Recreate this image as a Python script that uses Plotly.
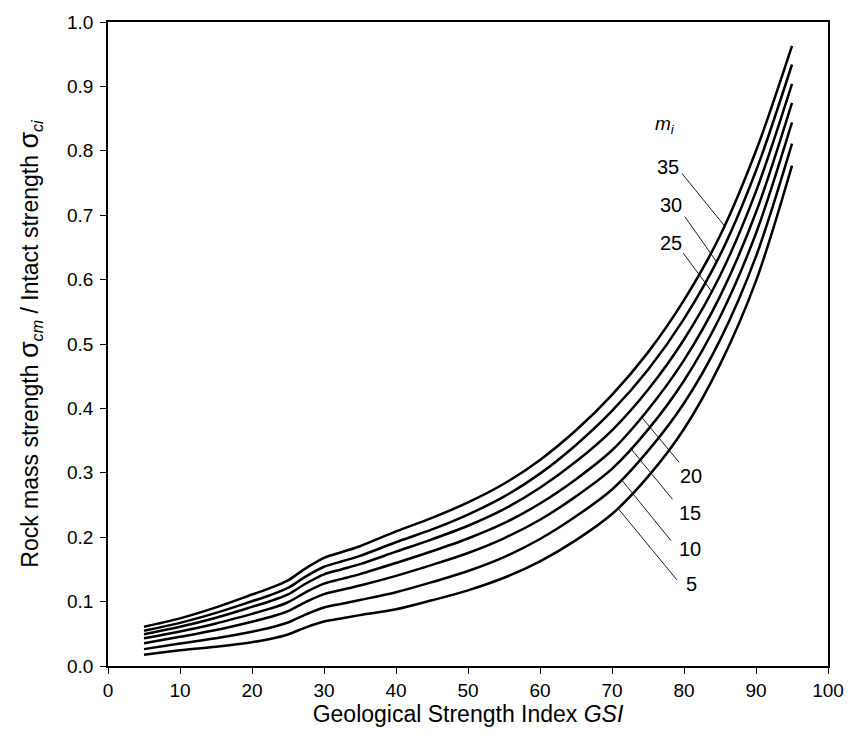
import numpy as np
import plotly.graph_objects as go

# ---- data ----
gsi = [5, 10, 15, 20, 22.5, 25, 27.5, 30, 32.5, 35, 40, 45, 50, 55, 60, 65, 70, 75, 80, 85, 90, 95]

mi_values = [35, 30, 25, 20, 15, 10, 5]

ratio_mi35 = [0.061, 0.074, 0.091, 0.111, 0.121, 0.133, 0.152, 0.168, 0.177, 0.186, 0.209, 0.230,
              0.254, 0.283, 0.320, 0.366, 0.421, 0.487, 0.568, 0.668, 0.800, 0.963]
ratio_mi30 = [0.0548, 0.0670, 0.0825, 0.1006, 0.1099, 0.1212, 0.1391, 0.1541, 0.1626, 0.1710, 0.1921, 0.2121,
              0.2352, 0.2630, 0.2987, 0.3432, 0.396, 0.460, 0.539, 0.638, 0.769, 0.934]
ratio_mi25 = [0.0493, 0.0609, 0.0750, 0.0918, 0.1005, 0.1112, 0.1281, 0.1423, 0.1502, 0.1582, 0.1775, 0.1967,
              0.2178, 0.2436, 0.2767, 0.3174, 0.366, 0.429, 0.507, 0.606, 0.737, 0.904]
ratio_mi20 = [0.0432, 0.0537, 0.0661, 0.0810, 0.0890, 0.0990, 0.1147, 0.1279, 0.1353, 0.1427, 0.1600, 0.1782,
              0.1980, 0.2217, 0.2523, 0.2901, 0.335, 0.398, 0.475, 0.574, 0.7045, 0.8745]
ratio_mi15 = [0.0353, 0.0453, 0.0559, 0.0688, 0.0760, 0.0851, 0.0996, 0.1116, 0.1183, 0.1250, 0.1400, 0.1570,
              0.1755, 0.1983, 0.2271, 0.2634, 0.306, 0.367, 0.443, 0.542, 0.672, 0.844]
ratio_mi10 = [0.0262, 0.0349, 0.0431, 0.0533, 0.0594, 0.0675, 0.0802, 0.0908, 0.0967, 0.1025, 0.1146, 0.1302,
              0.1475, 0.1691, 0.1972, 0.2325, 0.274, 0.334, 0.408, 0.506, 0.636, 0.811]
ratio_mi5 = [0.0175, 0.0245, 0.0300, 0.0370, 0.0420, 0.0490, 0.0600, 0.0690, 0.0740, 0.0790, 0.0880, 0.1020,
             0.1175, 0.1370, 0.1625, 0.1955, 0.236, 0.294, 0.368, 0.468, 0.598, 0.777]

series = [ratio_mi35, ratio_mi30, ratio_mi25, ratio_mi20, ratio_mi15, ratio_mi10, ratio_mi5]

x_ticks = list(range(0, 101, 10))
y_ticks = [round(v * 0.1, 1) for v in range(0, 11)]

# label placement: label centre (GSI, ratio), leader start (GSI, ratio), GSI where leader meets its curve
label_text = ["35", "30", "25", "20", "15", "10", "5"]
label_pos = [(77.8, 0.775), (78.15, 0.7155), (78.15, 0.657), (81.0, 0.295), (80.8, 0.2383), (80.9, 0.1818), (81.0, 0.1266)]
leader_start = [(79.7, 0.765), (80.1, 0.698), (79.9, 0.641), (79.3, 0.3166), (78.4, 0.259), (78.2, 0.1946), (79.0, 0.1339)]
leader_end_gsi = [85.6, 84.5, 83.8, 74.1, 72.6, 71.3, 70.8]

FONT = "Liberation Sans, Arial, Helvetica, sans-serif"

fig = go.Figure()
for mi, vals in zip(mi_values, series):
    fig.add_trace(go.Scatter(x=gsi, y=vals, mode="lines", name=f"mi={mi}",
                             line=dict(color="black", width=2.5, shape="spline", smoothing=0.9),
                             hoverinfo="x+y"))

for vals, (sx, sy), eg in zip(series, leader_start, leader_end_gsi):
    ey = float(np.interp(eg, gsi, vals))
    fig.add_trace(go.Scatter(x=[sx, eg], y=[sy, ey], mode="lines",
                             line=dict(color="black", width=0.9), hoverinfo="skip"))

annotations = []
for t, (lx, ly) in zip(label_text, label_pos):
    annotations.append(dict(x=lx, y=ly, xref="x", yref="y", text=t, showarrow=False,
                            font=dict(family=FONT, size=20, color="black")))
annotations.append(dict(x=77.4, y=0.84, xref="x", yref="y", text="<i>m</i><sub><i>i</i></sub>",
                        showarrow=False, font=dict(family=FONT, size=19, color="black")))

fig.update_layout(
    width=856, height=754,
    margin=dict(l=108, r=18, t=18, b=88),
    paper_bgcolor="white", plot_bgcolor="white",
    showlegend=False,
    annotations=annotations,
    font=dict(family=FONT, color="black"),
)
fig.update_xaxes(range=[0, 100], tickvals=x_ticks, ticktext=[str(v) for v in x_ticks],
                 showgrid=False, zeroline=False, showline=True, linecolor="black", linewidth=1.5,
                 mirror=True, ticks="outside", ticklen=6, tickcolor="black",
                 tickfont=dict(family=FONT, size=19),
                 title=dict(text="Geological Strength Index <i>GSI</i>", font=dict(family=FONT, size=23), standoff=6))
fig.update_yaxes(range=[0, 1], tickvals=y_ticks, ticktext=[f"{v:.1f}" for v in y_ticks],
                 showgrid=False, zeroline=False, showline=True, linecolor="black", linewidth=1.5,
                 mirror=True, ticks="outside", ticklen=6, tickcolor="black",
                 tickfont=dict(family=FONT, size=19), ticklabelstandoff=3,
                 title=dict(text="Rock mass strength <span style='font-size:27px'>σ</span><sub><i>cm</i></sub>"
                                 " / Intact strength <span style='font-size:27px'>σ</span><sub><i>ci</i></sub>",
                            font=dict(family=FONT, size=23), standoff=22))

fig.write_html("out.html", config={"displayModeBar": False},
               post_script="document.body.style.margin='0';")
